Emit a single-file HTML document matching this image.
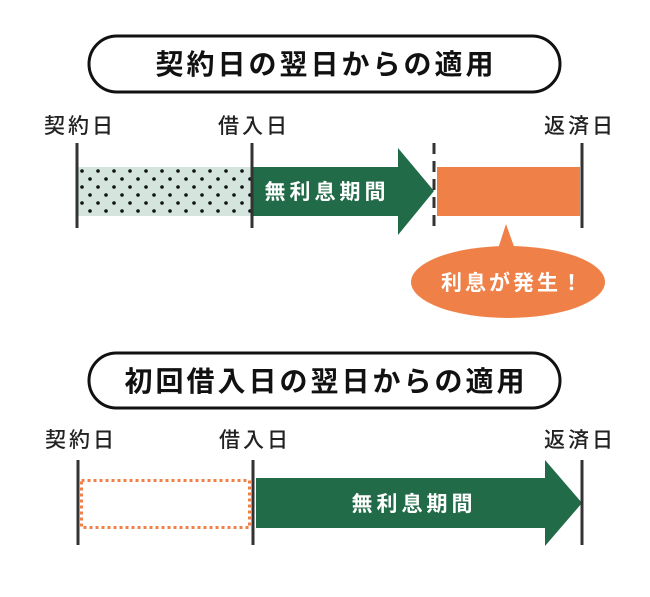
<!DOCTYPE html>
<html><head><meta charset="utf-8"><style>
body{margin:0;background:#fff;}
svg text{font-family:"Liberation Sans","Noto Sans CJK JP",sans-serif;}
</style></head><body>
<svg width="650" height="592" viewBox="0 0 650 592" xmlns="http://www.w3.org/2000/svg">
<defs>
<pattern id="dots" x="78" y="167" width="16" height="16" patternUnits="userSpaceOnUse">
<rect width="16" height="16" fill="#d3e5dc"/>
<circle cx="4" cy="4" r="1.8" fill="#111"/>
<circle cx="12" cy="12" r="1.8" fill="#111"/>
</pattern>
</defs>
<rect x="89" y="36" width="471" height="56" rx="28" fill="#fff" stroke="#111" stroke-width="3"/>
<text x="326" y="74" font-size="28" letter-spacing="3" font-weight="bold" text-anchor="middle" fill="#111">契約日の翌日からの適用</text>
<g font-size="21" fill="#222" text-anchor="middle" letter-spacing="3" font-weight="500">
<text x="80" y="133">契約日</text>
<text x="254" y="133">借入日</text>
<text x="580" y="133">返済日</text>
</g>
<rect x="78" y="167" width="174" height="49" fill="url(#dots)"/>
<polygon points="252,167 398,167 398,148 434,191 398,235 398,216 252,216" fill="#216b48"/>
<text x="327" y="199" font-size="21" letter-spacing="4" font-weight="bold" fill="#fff" text-anchor="middle">無利息期間</text>
<rect x="437" y="167" width="143" height="49" fill="#ef8148"/>
<line x1="77" y1="143" x2="77" y2="228" stroke="#333" stroke-width="3"/>
<line x1="252" y1="143" x2="252" y2="228" stroke="#333" stroke-width="3"/>
<line x1="434" y1="143" x2="434" y2="230" stroke="#333" stroke-width="3" stroke-dasharray="11,7"/>
<line x1="582" y1="143" x2="582" y2="228" stroke="#333" stroke-width="3"/>
<ellipse cx="508" cy="282" rx="97" ry="36" fill="#ef8148"/>
<polygon points="506,224 497,252 516,252" fill="#ef8148"/>
<text x="513" y="290" font-size="21" letter-spacing="3" font-weight="bold" fill="#fff" text-anchor="middle">利息が発生！</text>
<rect x="89" y="353" width="471" height="55" rx="27.5" fill="#fff" stroke="#111" stroke-width="3"/>
<text x="326" y="391" font-size="28" letter-spacing="3" font-weight="bold" text-anchor="middle" fill="#111">初回借入日の翌日からの適用</text>
<g font-size="21" fill="#222" text-anchor="middle" letter-spacing="3" font-weight="500">
<text x="81" y="447">契約日</text>
<text x="255" y="447">借入日</text>
<text x="580" y="447">返済日</text>
</g>
<rect x="81.5" y="480.5" width="168" height="47" fill="none" stroke="#ef8148" stroke-width="3" stroke-dasharray="3,3"/>
<polygon points="256,478 545,478 545,460 582,503 545,546 545,528 256,528" fill="#216b48"/>
<text x="414" y="511" font-size="21" letter-spacing="4" font-weight="bold" fill="#fff" text-anchor="middle">無利息期間</text>
<line x1="78" y1="460" x2="78" y2="545" stroke="#333" stroke-width="3"/>
<line x1="253" y1="460" x2="253" y2="545" stroke="#333" stroke-width="3"/>
<line x1="582" y1="460" x2="582" y2="545" stroke="#333" stroke-width="3"/>
</svg>
</body></html>
